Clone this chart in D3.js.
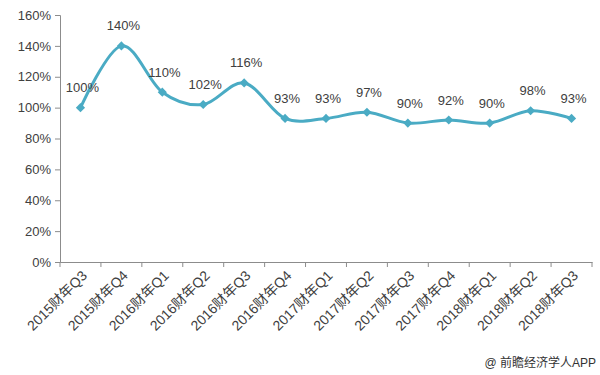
<!DOCTYPE html>
<html><head><meta charset="utf-8">
<script src="https://cdn.jsdelivr.net/npm/d3@7"></script>
<style>
body{margin:0;background:#fff;}
svg{display:block;font-family:"Liberation Sans",Arial,"Noto Sans CJK SC",sans-serif;}
</style></head>
<body><svg id="c" width="600" height="375"></svg>
<script>
const categories = ["2015财年Q3","2015财年Q4","2016财年Q1","2016财年Q2","2016财年Q3","2016财年Q4","2017财年Q1","2017财年Q2","2017财年Q3","2017财年Q4","2018财年Q1","2018财年Q2","2018财年Q3"];
const values = [100,140,110,102,116,93,93,97,90,92,90,98,93];
const yTicks = [0,20,40,60,80,100,120,140,160];
const credit = "@ 前瞻经济学人APP";

const svg = d3.select("#c");
const x = d3.scaleBand().domain(categories).range([60,592]);
const y = d3.scaleLinear().domain([0,160]).range([262,15]);
const cx = d => x(d) + x.bandwidth()/2;
const axisColor = "#8c8c8c", textColor = "#404040", lineColor = "#4aabc4";

// y axis
const ya = svg.append("g").attr("transform","translate(60,0)")
  .call(d3.axisLeft(y).tickValues(yTicks).tickSize(5).tickPadding(4).tickFormat(d=>d+"%"));
ya.select(".domain").attr("stroke",axisColor);
ya.selectAll(".tick line").attr("stroke",axisColor);
ya.selectAll(".tick text").attr("fill",textColor).attr("font-size",13);

// x axis
const xa = svg.append("g").attr("transform","translate(0,262)")
  .call(d3.axisBottom(x).tickSize(0).tickFormat(""));
xa.select(".domain").attr("stroke",axisColor);
const edges = categories.map(c=>x(c)).concat([x.range()[1]]);
xa.selectAll(".edge").data(edges).enter().append("line")
  .attr("x1",d=>d).attr("x2",d=>d).attr("y1",0).attr("y2",5).attr("stroke",axisColor);
svg.append("g").selectAll("text").data(categories).enter().append("text")
  .attr("transform",d=>`translate(${cx(d)+4},${273}) rotate(-45)`)
  .attr("text-anchor","end").attr("dy","0.35em")
  .attr("font-size",14).attr("fill",textColor).text(d=>d);

// line
const line = d3.line().x((d,i)=>cx(categories[i])).y(d=>y(d)).curve(d3.curveCatmullRom.alpha(0));
svg.append("path").datum(values).attr("d",line).attr("fill","none")
  .attr("stroke",lineColor).attr("stroke-width",3);
svg.append("g").selectAll("path").data(values).enter().append("path")
  .attr("d",d3.symbol().type(d3.symbolSquare).size(42))
  .attr("transform",(d,i)=>`translate(${cx(categories[i])},${y(d)}) rotate(45)`)
  .attr("fill",lineColor);

// labels
svg.append("g").selectAll("text").data(values).enter().append("text")
  .attr("x",(d,i)=>cx(categories[i])+2).attr("y",d=>y(d)-20).attr("dy","0.35em")
  .attr("text-anchor","middle").attr("font-size",13).attr("fill",textColor)
  .text(d=>d+"%");

svg.append("text").attr("x",596).attr("y",367).attr("text-anchor","end")
  .attr("font-size",12).attr("fill","#333").text(credit);
</script></body></html>
